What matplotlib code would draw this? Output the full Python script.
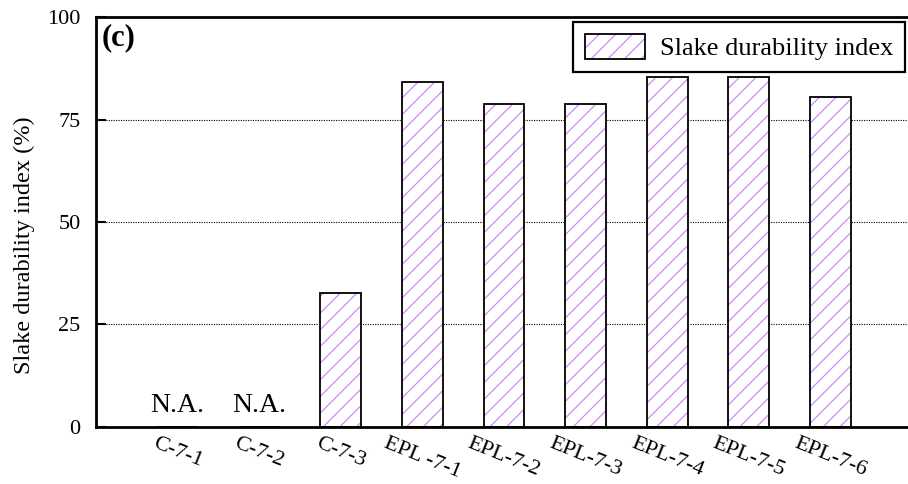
import matplotlib
matplotlib.use("Agg")
import matplotlib.pyplot as plt
from matplotlib.patches import Patch
from matplotlib.legend_handler import HandlerTuple

samples = ["C-7-1", "C-7-2", "C-7-3", "EPL -7-1", "EPL-7-2", "EPL-7-3",
           "EPL-7-4", "EPL-7-5", "EPL-7-6"]
sdi = [None, None, 32.7, 84.1, 78.8, 78.7, 85.4, 85.3, 80.6]
hatch_color = "#cf8cf0"

plt.rcParams["font.family"] = ["Liberation Serif", "DejaVu Serif"]
plt.rcParams["hatch.linewidth"] = 0.9

fig = plt.figure(figsize=(9.08, 4.84), dpi=100)
ax = fig.add_axes([0.1057, 0.1178, 0.8987, 0.847])

x = list(range(len(samples)))
heights = [v if v is not None else 0 for v in sdi]

# hatch layer first, then the black outline on top
ax.bar(x, heights, width=0.5, color="white", edgecolor=hatch_color,
       hatch="//", linewidth=0, zorder=2)
ax.bar(x, heights, width=0.5, fill=False, edgecolor="black",
       linewidth=1.3, zorder=3)

for i, v in enumerate(sdi):
    if v is None:
        ax.text(i, 2.3, "N.A.", ha="center", va="bottom", fontsize=20)

ax.set_xlim(-1, 9)
ax.set_ylim(0, 100)
ax.set_yticks([0, 25, 50, 75, 100])
ax.tick_params(axis="y", direction="in", length=7, width=1.5, labelsize=16, pad=11)
ax.set_xticks(x)
ax.set_xticklabels(samples, rotation=-22, ha="center", fontsize=16)
ax.tick_params(axis="x", length=0, pad=5)

for y in (25, 50, 75):
    ax.axhline(y, color="black", linestyle=(0, (1, 1.2)), linewidth=0.8, zorder=1)

for s in ax.spines.values():
    s.set_linewidth(2)

ax.set_ylabel("Slake durability index (%)", fontsize=17.5)
ax.yaxis.set_label_coords(-0.075, 0.444)
ax.text(0.007, 0.985, "(c)", transform=ax.transAxes, fontsize=22,
        fontweight="bold", ha="left", va="top")

h_fill = Patch(facecolor="white", edgecolor=hatch_color, hatch="//", linewidth=0)
h_edge = Patch(fill=False, edgecolor="black", linewidth=1.3)
leg = ax.legend([(h_fill, h_edge)], ["Slake durability index"],
                handler_map={tuple: HandlerTuple(ndivide=1, pad=0)},
                loc="upper right", bbox_to_anchor=(0.9914, 0.988),
                fontsize=19, fancybox=False, edgecolor="black",
                framealpha=1, handlelength=2.3, handleheight=1.1,
                handletextpad=0.55, borderpad=0.45, borderaxespad=0)
leg.get_frame().set_linewidth(1.6)

fig.savefig("out.png", dpi=100)
